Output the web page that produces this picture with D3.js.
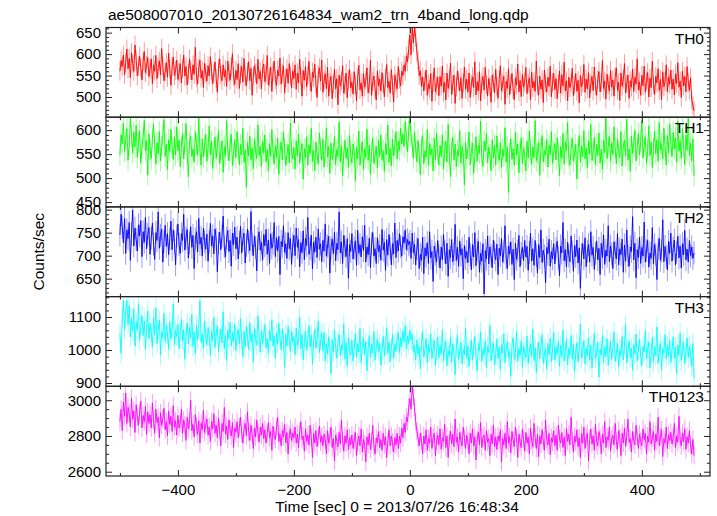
<!DOCTYPE html>
<html><head><meta charset="utf-8">
<script src="https://cdn.jsdelivr.net/npm/d3@7"></script>
<style>
body{margin:0;background:#fff}
text{font-family:"Liberation Sans",Arial,Helvetica,sans-serif}
</style>
</head><body><svg id="c" width="717" height="516"></svg>
<script>
const title = "ae508007010_20130726164834_wam2_trn_4band_long.qdp";
const xLabel = "Time [sec] 0 = 2013/07/26 16:48:34";
const yLabel = "Counts/sec";
const bands = ["TH0", "TH1", "TH2", "TH3", "TH0123"];
const colors = ["#ff0000", "#00ff00", "#0000ff", "#00ffff", "#ff00ff"];
const tStart = -500, binSize = 2;
const xDomain = [-524, 517.5];
const xMajorTicks = [-400, -200, 0, 200, 400];
const xMinorTicks = [-500, -300, -100, 100, 300, 500];
const yDomains = [[453, 662], [440, 627], [611, 806], [890, 1162], [2576, 3078]];
const yMajorTicks = [[500, 550, 600, 650], [450, 500, 550, 600], [650, 700, 750, 800], [900, 1000, 1100], [2600, 2800, 3000]];
const yMinorStep = [10, 10, 10, 20, 50];
const errBars = [22, 22, 25, 30, 50];

const th0 = [
560,585,571,598,552,580,612,566,590,545,603,578,560,621,587,549,572,595,568,540,583,606,557,574,592,
548,566,589,531,575,560,597,543,569,584,552,613,571,538,559,580,546,602,565,527,571,593,550,562,586,
541,557,578,533,566,598,549,571,528,555,589,562,540,575,553,616,547,530,568,586,544,561,522,579,556,
537,573,549,594,560,531,556,582,543,511,567,589,552,538,575,547,563,525,584,557,539,570,601,548,529,
562,541,578,520,553,571,535,590,547,526,559,582,538,567,504,549,573,556,531,588,542,560,519,565,577,
536,552,597,528,546,570,513,558,584,541,527,563,549,591,530,555,572,509,544,566,532,578,550,521,561,
543,575,518,556,533,588,547,502,562,539,571,524,550,583,535,513,558,545,577,528,499,553,568,537,586,
511,538,554,520,569,502,534,548,496,530,565,519,543,482,551,526,537,573,509,528,556,498,540,564,521,
535,507,559,528,491,546,574,517,533,502,555,523,539,568,510,529,586,504,536,549,518,493,561,526,542,
514,557,531,500,545,576,522,537,509,564,528,488,551,534,519,571,542,526,560,550,575,560,596,582,612,
645,598,662,626,662,640,604,586,550,561,525,547,514,538,563,504,531,519,555,490,536,568,512,527,546,
503,548,525,572,511,534,493,556,520,540,579,506,529,551,485,524,561,538,514,545,497,533,570,518,542,
511,556,499,530,547,522,582,505,536,514,559,491,533,548,516,569,528,502,543,524,488,551,534,510,564,
525,497,541,573,514,532,548,483,537,520,566,505,530,555,516,494,544,528,577,512,539,501,553,523,535,
569,508,532,545,493,558,521,536,513,584,527,504,549,518,540,487,563,531,512,546,525,572,500,534,555,
517,543,496,530,561,509,552,525,581,514,538,491,546,522,534,567,503,528,555,513,539,486,550,524,533,
576,511,542,519,557,498,531,548,515,570,526,504,541,559,512,533,585,520,537,495,553,529,514,562,523,
540,502,547,568,516,534,492,556,525,541,578,510,531,551,497,538,523,565,513,546,530,589,517,535,504,
551,526,572,511,538,557,500,544,522,583,529,506,548,533,566,515,541,494,559,524,537,575,512,546,530,
563,518,542,505,554,531,580,523,537,499,560,526,548,512,571,534,516,545,493,480,468];

const th1 = [
548,590,572,615,556,581,603,537,569,627,588,552,596,565,610,543,574,599,531,562,585,620,557,578,506,
592,560,541,583,613,568,529,574,551,597,536,566,589,622,545,571,518,580,555,602,563,539,586,548,607,
557,579,524,566,593,540,571,614,552,503,575,588,545,561,533,597,570,548,625,559,527,582,544,567,591,
535,563,609,549,576,520,558,586,541,567,599,530,554,578,512,565,547,620,558,536,573,591,526,552,580,
543,597,561,528,570,549,604,533,559,481,574,546,588,537,563,519,582,555,541,611,547,566,524,577,553,
590,534,560,515,572,545,601,557,529,568,542,583,508,554,575,538,596,561,526,549,570,532,615,553,540,
564,519,578,546,592,531,556,572,498,561,543,586,527,569,551,604,535,558,516,575,548,530,594,562,537,
581,523,555,605,544,566,510,573,539,552,587,528,560,545,617,534,568,504,550,579,541,563,522,589,547,
532,571,556,495,564,540,598,527,553,576,518,561,543,602,537,569,508,555,584,531,548,566,521,579,545,
590,538,557,514,573,549,611,533,562,525,581,546,568,597,540,576,558,604,571,592,566,618,580,555,600,
625,588,570,541,596,563,534,578,552,507,566,589,530,557,543,601,526,572,548,561,515,583,539,594,553,
527,568,545,590,519,556,577,534,612,549,503,563,585,538,571,524,558,546,599,531,566,551,486,574,540,
562,596,528,555,573,510,547,586,535,568,552,619,541,525,577,557,593,532,564,548,515,580,542,569,527,
588,551,537,574,522,560,545,605,533,566,470,553,582,539,561,527,596,548,571,511,556,584,530,563,547,
515,577,542,598,558,529,565,543,620,536,552,574,506,561,589,534,557,547,580,523,568,549,597,531,556,
572,538,584,554,505,566,541,593,529,575,557,616,544,527,562,583,536,551,570,498,560,589,533,567,545,
599,540,563,521,578,550,612,537,556,585,528,571,547,594,532,560,518,579,553,625,541,566,587,535,573,
549,607,562,530,582,555,543,597,525,568,579,546,623,538,561,514,588,552,571,600,536,564,593,548,577,
620,542,569,586,531,558,609,547,575,522,563,598,551,580,535,616,559,572,540,604,566,527,589,553,612,
571,545,596,561,584,533,619,556,578,541,603,567,528,590,558,625,547,574,536,582,505];

const th2 = [
745,790,762,728,781,705,756,737,772,690,748,799,721,760,735,710,767,743,776,698,752,729,783,715,746,
761,703,738,771,725,692,750,733,795,716,744,758,686,731,766,720,748,702,737,775,713,756,729,680,742,
769,724,705,748,733,790,712,739,757,695,728,763,718,744,672,736,752,708,781,725,740,699,760,731,714,
747,688,730,770,721,743,704,758,736,665,727,751,713,742,786,719,697,738,755,709,733,677,749,724,762,
715,740,693,728,764,706,735,749,684,722,758,730,711,796,725,700,743,718,667,737,752,712,729,690,746,
721,757,703,734,683,748,716,727,772,698,739,710,742,659,731,719,765,707,726,694,750,715,737,681,723,
744,700,760,718,735,676,728,707,754,691,738,722,783,703,716,745,671,729,708,740,696,758,714,726,687,
733,710,769,699,721,742,662,717,736,704,751,689,727,713,795,706,730,683,744,720,698,737,651,724,709,
748,693,716,732,679,755,705,724,697,741,711,766,686,719,702,738,674,727,750,699,715,683,739,708,722,
690,757,712,729,668,735,701,746,717,680,726,704,771,696,733,710,748,720,699,741,727,756,713,735,724,
731,694,749,706,725,680,715,737,672,703,690,740,661,717,699,728,683,752,695,709,644,721,704,686,733,
700,673,719,691,746,708,682,727,655,713,696,735,687,704,768,689,718,677,732,701,715,650,722,694,709,
685,740,702,669,724,697,750,678,712,731,664,705,688,726,617,711,693,743,682,719,699,674,734,707,691,
725,659,716,700,737,686,708,765,695,672,721,703,730,681,714,648,727,692,710,744,676,705,718,689,733,
697,720,668,707,749,688,715,679,733,701,662,724,696,756,685,712,699,641,718,704,736,677,709,693,726,
682,715,731,695,656,721,706,772,689,713,675,729,700,687,743,708,666,722,698,734,684,717,629,703,726,
693,739,676,710,724,686,752,701,718,670,705,732,691,716,659,727,696,745,681,712,699,765,687,721,704,
672,730,707,693,748,680,715,702,736,664,723,688,756,700,677,719,709,785,691,727,652,713,696,740,683,
718,699,773,686,711,733,675,706,694,761,682,724,703,648,715,737,690,710,778,687,720,698,669,731,705,
749,688,716,734,680,707,742,695,721,673,726,702,755,691,714,686,733,700,719,694,706];

const th3 = [
1050,990,1095,1150,1062,1118,1150,1077,1134,1040,1096,1058,1125,1012,1083,1061,1140,1030,1072,1105,1044,1088,1003,1066,1119,
1035,1081,1052,1009,1098,1047,1127,1020,1063,1090,985,1055,1038,1111,1026,1074,1049,1002,1086,1033,1067,1140,1015,1059,1041,
1078,1004,1052,1093,1027,1061,972,1045,1082,1018,1070,1036,1108,1011,1054,990,1075,1031,1063,1150,1024,1048,1005,1087,1039,
1016,1068,1042,983,1057,1029,1099,1008,1051,1073,995,1037,1064,1021,1116,1003,1046,968,1060,1034,1085,1012,1054,1026,1079,
998,1043,1062,1019,1095,1030,980,1056,1010,1071,1038,1002,1083,1025,1049,963,1067,1032,1015,1104,1041,994,1058,1021,1046,
1077,1006,1035,990,1060,1027,1092,1012,1044,975,1053,1018,1081,1037,1001,1064,1029,948,1048,1011,1072,1033,996,1057,1024,
1040,986,1066,1013,1031,1100,1004,1047,970,1022,1058,999,1036,1074,1010,1045,957,1026,1063,1005,1039,1088,993,1028,1051,
997,1054,966,1019,988,1040,1005,928,1031,993,1061,1010,975,1026,1047,983,1015,998,1079,972,1022,951,1037,1002,985,
1029,967,1008,1050,980,1020,994,1065,961,1012,1036,986,1025,937,1003,1044,978,1017,991,1056,969,1009,1032,996,1021,
954,1000,1041,983,1014,1068,989,1026,964,1005,1047,975,1019,996,1030,1053,992,1037,1010,1059,1024,1075,1003,1042,1020,
1060,1030,1048,995,1014,970,1031,988,1010,943,1022,1056,979,1001,1035,962,1016,993,1049,974,1007,1029,954,998,1040,
976,1014,989,1060,967,1006,1027,952,998,982,1039,963,1018,995,925,1009,1046,972,991,1023,958,1001,985,1067,975,
1012,950,994,1030,970,1007,1041,981,936,1020,997,1055,965,1003,986,1028,946,1010,992,1075,968,999,1021,955,988,
1033,974,1008,941,1016,990,1049,962,1002,1025,978,996,920,1014,1037,971,993,1056,966,1005,983,1029,948,1011,994,
977,1042,959,1000,1018,980,1064,968,1007,931,995,1024,973,1012,1047,960,991,1004,942,1019,986,1036,965,998,1053,
970,1009,988,1027,951,1015,979,1061,967,996,1032,956,1006,984,1044,972,1017,935,993,1022,964,1003,1079,976,992,
1029,958,1005,983,1038,969,1014,945,999,1051,975,990,1023,918,1002,986,1045,963,1010,981,1034,954,997,1026,972,
1007,1055,966,992,1020,949,1001,984,1041,970,1013,1077,961,995,1028,977,1006,939,1016,989,1048,967,1000,1032,980,
953,1011,994,1058,973,1003,1024,946,987,1039,965,1009,983,1070,960,997,1020,941,1005,990,1046,974,1014,981,1029,
962,999,1040,975,1008,928,1016,985,1051,968,1002,1023,959,992,1037,976,1011,988,950,1020,915];

const th0123 = [
2880,2950,2830,2990,2910,3040,2870,2960,2925,2850,3010,2895,2940,2820,2975,2905,2860,2930,2995,2845,2915,2880,2965,2810,2935,
2870,2920,2845,2985,2890,2815,2950,2875,2905,2790,2930,2860,2895,2955,2835,2880,2800,2940,2865,2910,2825,2970,2850,2885,2805,
2915,2845,2870,2950,2815,2890,2860,2775,2905,2840,2880,3000,2830,2865,2795,2920,2855,2810,2885,2760,2870,2835,2945,2820,2860,
2895,2805,2850,2770,2880,2840,2925,2815,2860,2790,2900,2830,2745,2870,2825,2960,2810,2855,2780,2890,2835,2800,2875,2735,2845,
2820,2880,2790,2850,2905,2815,2760,2840,2870,2800,2935,2825,2775,2860,2810,2730,2845,2795,2890,2820,2765,2850,2805,2870,2785,
2835,2760,2815,2875,2790,2825,2720,2855,2800,2780,2845,2905,2770,2810,2745,2830,2795,2865,2760,2820,2700,2805,2840,2775,2815,
2790,2850,2760,2810,2735,2825,2880,2780,2800,2715,2840,2770,2805,2750,2860,2790,2680,2815,2760,2830,2740,2795,2855,2765,2800,
2745,2810,2780,2700,2830,2760,2795,2850,2735,2785,2660,2805,2770,2740,2820,2755,2890,2775,2715,2800,2760,2835,2725,2790,2750,
2805,2730,2775,2820,2690,2765,2800,2745,2840,2710,2780,2755,2655,2795,2750,2815,2725,2770,2860,2740,2700,2790,2760,2825,2735,
2780,2720,2815,2750,2795,2680,2770,2835,2745,2800,2765,2710,2790,2750,2815,2730,2800,2760,2845,2790,2870,2820,2905,2880,2960,
3010,2950,3078,3020,2960,2880,2830,2790,2745,2815,2770,2700,2800,2755,2835,2720,2785,2760,2850,2730,2790,2815,2690,2775,2805,
2750,2840,2725,2790,2770,2865,2735,2800,2680,2780,2825,2755,2810,2740,2895,2765,2795,2710,2820,2775,2745,2850,2790,2730,2805,
2770,2700,2815,2760,2840,2745,2795,2665,2780,2820,2750,2875,2735,2790,2805,2720,2830,2765,2785,2690,2810,2755,2860,2740,2795,
2725,2800,2770,2835,2655,2785,2750,2815,2730,2880,2760,2795,2705,2825,2775,2740,2850,2790,2680,2810,2765,2735,2840,2780,2715,
2820,2760,2795,2700,2845,2775,2740,2870,2790,2730,2810,2685,2800,2755,2835,2770,2720,2890,2780,2750,2815,2695,2790,2765,2830,
2745,2805,2720,2860,2785,2760,2820,2735,2795,2690,2840,2770,2810,2750,2905,2775,2710,2800,2765,2835,2740,2790,2680,2815,2760,
2850,2730,2790,2815,2660,2780,2840,2755,2800,2720,2865,2770,2745,2825,2790,2700,2810,2760,2880,2735,2795,2775,2850,2715,2785,
2805,2750,2870,2770,2725,2830,2790,2690,2815,2760,2845,2740,2800,2895,2765,2785,2710,2825,2775,2750,2860,2795,2730,2810,2770,
2745,2840,2780,2815,2700,2800,2765,2880,2755,2790,2825,2720,2810,2770,2905,2745,2795,2835,2685,2785,2760,2850,2730,2805,2775,
2820,2755,2790,2870,2735,2800,2765,2910,2780,2745,2815,2770,2840,2725,2795,2760,2830,2750,2700,2780,2690];

const seriesValues = [th0, th1, th2, th3, th0123];

// ---- layout ----
const plotLeft = 106, plotRight = 710, plotTop = 27.5, plotBottom = 476;
const nP = bands.length;
const ph = (plotBottom - plotTop) / nP;

const svg = d3.select("#c");
const x = d3.scaleLinear().domain(xDomain).range([plotLeft, plotRight]);
const frameColor = "#222";
const fontFam = '"Liberation Sans",Arial,sans-serif';
const fmt = d3.format("d");

svg.append("text").attr("x", 108).attr("y", 20).attr("font-size", 15.5).attr("fill", "#000").text(title);

bands.forEach((name, p) => {
  const y0 = plotTop + p * ph, y1 = y0 + ph;
  const y = d3.scaleLinear().domain(yDomains[p]).range([y1, y0]);
  const g = svg.append("g");
  const clipId = "clip" + p;
  svg.append("clipPath").attr("id", clipId).append("rect")
    .attr("x", plotLeft).attr("y", y0).attr("width", plotRight - plotLeft).attr("height", ph);

  const vals = seriesValues[p];
  const data = vals.map((v, i) => ({ t: tStart + i * binSize, v }));
  const col = colors[p];
  const dg = g.append("g").attr("clip-path", `url(#${clipId})`);
  dg.selectAll("line.err").data(data).join("line")
    .attr("x1", d => x(d.t)).attr("x2", d => x(d.t))
    .attr("y1", d => y(d.v - errBars[p])).attr("y2", d => y(d.v + errBars[p]))
    .attr("stroke", col).attr("stroke-opacity", 0.4).attr("stroke-width", 1);
  dg.append("path").datum(data)
    .attr("d", d3.line().x(d => x(d.t)).y(d => y(d.v)))
    .attr("fill", "none").attr("stroke", col).attr("stroke-width", 0.9);

  const [lo, hi] = yDomains[p];
  const st = yMinorStep[p];
  const minor = d3.range(Math.ceil(lo / st) * st, hi + 0.001, st).filter(v => !yMajorTicks[p].includes(v));
  const mk = (axisFn, xpos, size, tv, labels) => {
    const a = axisFn(y).tickValues(tv).tickSize(size).tickPadding(5);
    a.tickFormat(labels ? fmt : "");
    const ag = g.append("g").attr("transform", `translate(${xpos},0)`).call(a);
    ag.select(".domain").remove();
    ag.selectAll("line").attr("stroke", frameColor);
    ag.selectAll("text").attr("font-size", 15).attr("fill", "#000").style("font-family", fontFam);
  };
  mk(d3.axisLeft, plotLeft, -6, yMajorTicks[p], true);
  mk(d3.axisLeft, plotLeft, -3, minor, false);
  mk(d3.axisRight, plotRight, -6, yMajorTicks[p], false);
  mk(d3.axisRight, plotRight, -3, minor, false);

  const mkx = (axisFn, ypos, size, tv, labels) => {
    const a = axisFn(x).tickValues(tv).tickSize(size).tickPadding(8);
    if (!labels) a.tickFormat("");
    const ag = g.append("g").attr("transform", `translate(0,${ypos})`).call(a);
    ag.select(".domain").remove();
    ag.selectAll("line").attr("stroke", frameColor);
    ag.selectAll("text").attr("font-size", 15).attr("fill", "#000").style("font-family", fontFam);
  };
  const isLast = p === nP - 1;
  mkx(d3.axisBottom, y1, -6, xMajorTicks, isLast);
  mkx(d3.axisBottom, y1, -3, xMinorTicks, false);
  mkx(d3.axisTop, y0, -6, xMajorTicks, false);
  mkx(d3.axisTop, y0, -3, xMinorTicks, false);

  g.append("rect").attr("x", plotLeft).attr("y", y0).attr("width", plotRight - plotLeft).attr("height", ph)
    .attr("fill", "none").attr("stroke", frameColor).attr("stroke-width", 1.2);

  g.append("text").attr("x", 704).attr("y", y0 + 16).attr("text-anchor", "end")
    .attr("font-size", 15.5).attr("fill", "#000").text(name);
});

svg.append("text").attr("x", 397).attr("y", 512).attr("text-anchor", "middle")
  .attr("font-size", 15.5).attr("fill", "#000").text(xLabel);
svg.append("text").attr("transform", `translate(44,${(plotTop + plotBottom) / 2}) rotate(-90)`)
  .attr("text-anchor", "middle").attr("font-size", 15.5).attr("fill", "#000").text(yLabel);
</script>
</body></html>
